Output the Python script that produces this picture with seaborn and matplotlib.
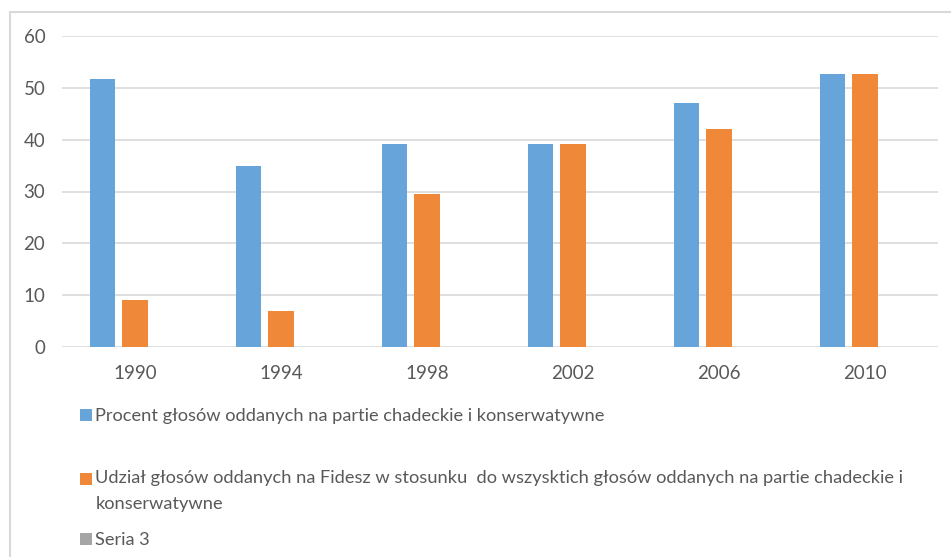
import numpy as np
import pandas as pd

import matplotlib
matplotlib.use("Agg")
import matplotlib.pyplot as plt
from matplotlib.patches import Rectangle
from matplotlib.legend_handler import HandlerPatch
import seaborn as sns

years = ["1990", "1994", "1998", "2002", "2006", "2010"]
procent = [51.7, 35.0, 39.2, 39.2, 47.0, 52.7]
udzial = [9.0, 7.0, 29.5, 39.2, 42.1, 52.7]
seria3 = [0, 0, 0, 0, 0, 0]

series_names = [
    "Procent głosów oddanych na partie chadeckie i konserwatywne",
    "Udział głosów oddanych na Fidesz w stosunku  do wszysktich głosów oddanych na partie chadeckie i\nkonserwatywne",
    "Seria 3",
]
colors = ["#66A4DA", "#EF8839", "#A5A5A5"]
y_ticks = [0, 10, 20, 30, 40, 50, 60]

df = pd.DataFrame({
    "rok": years * 3,
    "wartosc": procent + udzial + seria3,
    "seria": [series_names[0]] * 6 + [series_names[1]] * 6 + [series_names[2]] * 6,
})

sns.set_theme(style="white")
plt.rcParams["font.family"] = ["Lato", "DejaVu Sans"]
text_color = "#595959"

fig = plt.figure(figsize=(9.51, 5.57), dpi=100)
ax = fig.add_axes([62 / 951, 1 - 347 / 557, 876 / 951, 311 / 557])

sns.barplot(data=df, x="rok", y="wartosc", hue="seria", palette=colors,
            saturation=1, width=0.668, gap=0.215, linewidth=0, ax=ax,
            legend=False)

ax.set_xlim(-0.5, 5.5)
ax.set_ylim(0, 60)
ax.set_yticks(y_ticks)
ax.yaxis.grid(True, color="#D9D9D9", linewidth=1.2)
ax.set_axisbelow(True)
for s in ax.spines.values():
    s.set_visible(False)
ax.set_xlabel("")
ax.set_ylabel("")
ax.tick_params(axis="y", length=0, pad=12, labelsize=13.5, labelcolor=text_color)
ax.tick_params(axis="x", length=0, pad=13, labelsize=13.5, labelcolor=text_color)

# chart frame
fig.patches.append(Rectangle((10 / 951, -0.01), 1.2, 1 - 12 / 557 + 0.01,
                             transform=fig.transFigure, fill=False,
                             edgecolor="#D9D9D9", linewidth=1.5))


# square next to the first line of a wrapped label
def top_square(shift):
    def make(legend, orig_handle, xdescent, ydescent, width, height, fontsize):
        return Rectangle((-xdescent, -ydescent + shift), width, height)
    return make


legend_fs = 13.15
line_pt = 25 * 0.72
legend_tops = [392, 454, 516]
for name, col, ytop in zip(series_names, colors, legend_tops):
    h = Rectangle((0, 0), 1, 1, facecolor=col, edgecolor="none")
    extra = name.count("\n")
    leg = fig.legend([h], [name], loc="upper left",
                     bbox_to_anchor=(64 / 951, 1 - ytop / 557),
                     frameon=False, fontsize=legend_fs, handlelength=0.62,
                     handleheight=0.62, handletextpad=0.2,
                     labelcolor=text_color,
                     handler_map={Rectangle: HandlerPatch(patch_func=top_square(extra * line_pt / 2))})
    for t in leg.get_texts():
        t.set_linespacing(1.72)

fig.savefig("out.png", dpi=100)
